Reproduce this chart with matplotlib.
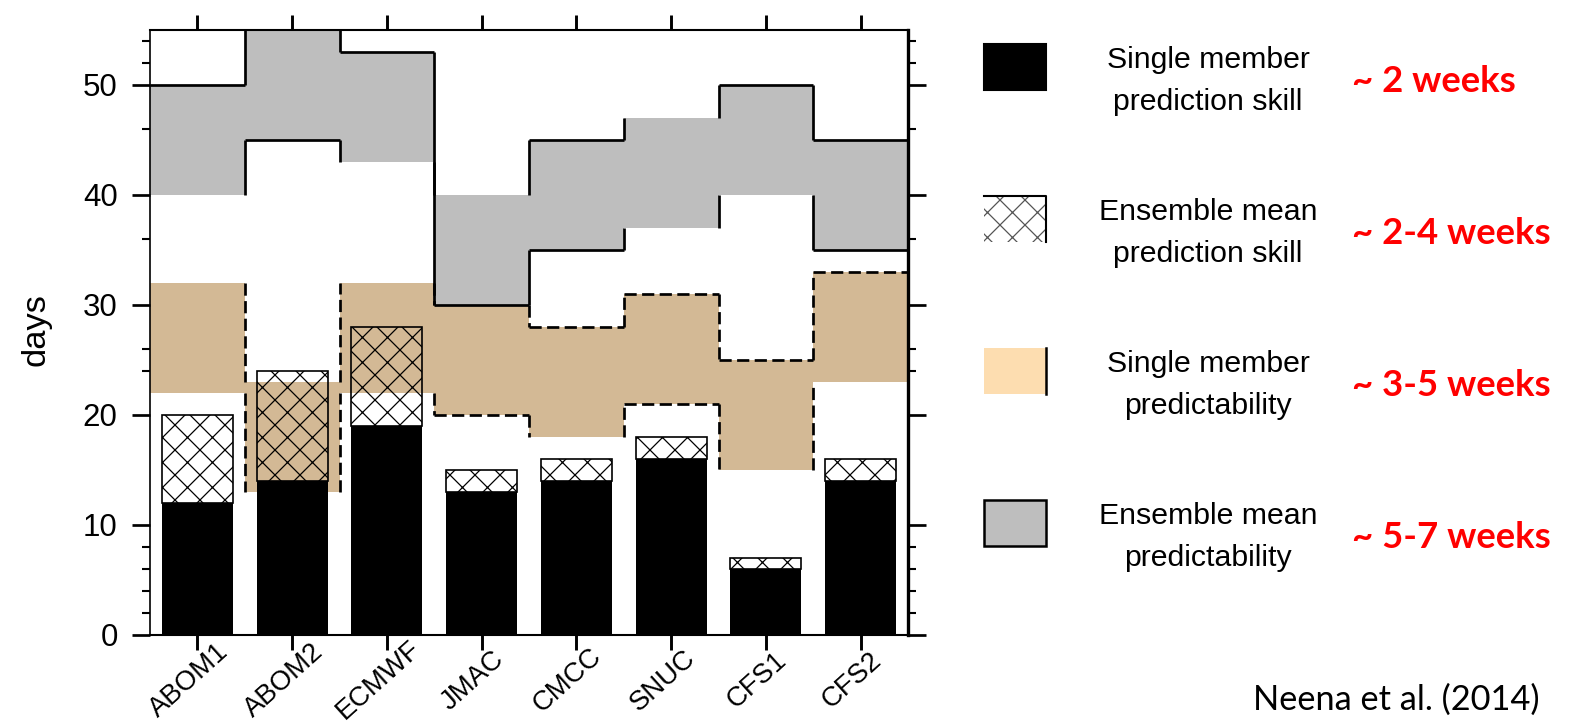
import numpy as np
import matplotlib
matplotlib.use("Agg")
import matplotlib.pyplot as plt
from matplotlib.patches import Rectangle
from matplotlib.ticker import FixedLocator
from matplotlib.transforms import blended_transform_factory

plt.rcParams["font.family"] = ["Liberation Sans", "DejaVu Sans"]
plt.rcParams["hatch.linewidth"] = 0.6

# data (days)
models = ["ABOM1", "ABOM2", "ECMWF", "JMAC", "CMCC", "SNUC", "CFS1", "CFS2"]
single_skill = [12, 14, 19, 13, 14, 16, 6, 14]
ens_skill = [20, 24, 28, 15, 16, 18, 7, 16]
single_pred_lo = [22, 13, 22, 20, 18, 21, 15, 23]
single_pred_hi = [32, 23, 32, 30, 28, 31, 25, 33]
ens_pred_lo = [40, 45, 43, 30, 35, 37, 40, 35]
ens_pred_hi = [50, 55, 53, 40, 45, 47, 50, 45]

# which horizontal edges of the step bands carry an outline in the original
ens_hi_edge = [1, 0, 1, 0, 1, 0, 1, 1]
ens_lo_edge = [0, 1, 0, 1, 1, 0, 0, 1]
single_hi_edge = [0, 0, 0, 0, 1, 1, 1, 1]
single_lo_edge = [0, 0, 0, 1, 0, 1, 0, 0]

y_major = [0, 10, 20, 30, 40, 50]
y_minor = [2, 4, 6, 8, 24, 26, 36, 46, 52, 54]

legend_labels = ["Single member\nprediction skill", "Ensemble mean\nprediction skill",
                 "Single member\npredictability", "Ensemble mean\npredictability"]
legend_notes = ["~ 2 weeks", "~ 2-4 weeks", "~ 3-5 weeks", "~ 5-7 weeks"]

TAN = "#D3B995"
TAN_LEG = "#FDDDB0"
GRAY = "#BEBEBE"
DASH = (0, (4.5, 2))

W, H = 1569, 725
fig = plt.figure(figsize=(W / 150, H / 150), dpi=150)
ax = fig.add_axes([150 / W, 1 - 635 / H, 758 / W, 605 / H])

x = np.arange(len(models))
edges = np.arange(len(models) + 1) - 0.5


def band(lo, hi, color, ls, hi_edge, lo_edge):
    lo = np.array(lo)
    hi = np.array(hi)
    ax.stairs(hi, edges, baseline=lo, fill=True, color=color, lw=0, zorder=1)
    xb = edges[1:-1]
    kw = dict(colors="black", linestyles=ls, lw=1.3, zorder=2)
    ax.vlines(xb, hi[:-1], hi[1:], **kw)
    ax.vlines(xb, lo[:-1], lo[1:], **kw)
    for i in range(len(lo)):
        if hi_edge[i]:
            ax.hlines(hi[i], edges[i], edges[i + 1], **kw)
        if lo_edge[i]:
            ax.hlines(lo[i], edges[i], edges[i + 1], **kw)


band(ens_pred_lo, ens_pred_hi, GRAY, "solid", ens_hi_edge, ens_lo_edge)
band(single_pred_lo, single_pred_hi, TAN, DASH, single_hi_edge, single_lo_edge)

ax.bar(x, single_skill, width=0.75, color="black", zorder=3)
ax.bar(x, np.array(ens_skill) - np.array(single_skill), bottom=single_skill, width=0.75,
       facecolor="none", edgecolor="black", hatch="xx", lw=0.8, zorder=3)

ax.set_xlim(-0.5, len(models) - 0.5)
ax.set_ylim(0, 55)
ax.set_xticks(x)
ax.set_xticklabels([])
ax.yaxis.set_major_locator(FixedLocator(y_major))
ax.yaxis.set_minor_locator(FixedLocator(y_minor))
ax.tick_params(axis="x", which="major", direction="out", length=7, width=1.4,
               top=True, bottom=True)
ax.tick_params(axis="y", which="major", direction="out", length=8.5, width=1.3,
               left=True, right=True, labelsize=15, pad=7)
ax.tick_params(axis="y", which="minor", direction="out", length=4, width=1.0,
               left=True, right=True)
ax.spines["left"].set_linewidth(0.8)
ax.spines["top"].set_linewidth(1.0)
ax.spines["bottom"].set_linewidth(1.0)
ax.spines["right"].set_linewidth(1.6)

ax.set_ylabel("days", fontsize=16.5)
ax.yaxis.set_label_coords(-0.13, 0.505)

trans = blended_transform_factory(ax.transData, ax.transAxes)
for i, m in enumerate(models):
    ax.text(i - 0.09, -0.075, m, transform=trans, rotation=42, rotation_mode="anchor",
            ha="center", va="center", fontsize=13.2)

# legend drawn in figure pixel space
lax = fig.add_axes([0, 0, 1, 1])
lax.set_xlim(0, W)
lax.set_ylim(H, 0)
lax.axis("off")

box_x, box_w, box_h = 984, 62, 46
row_y0, row_step = 67, 152
for i in range(4):
    cy = row_y0 + i * row_step
    top = cy - box_h / 2
    if i == 0:
        lax.add_patch(Rectangle((box_x, top), box_w, box_h, facecolor="black", edgecolor="black", lw=1))
    elif i == 1:
        lax.add_patch(Rectangle((box_x, top), box_w, box_h, facecolor="white", edgecolor="#555555",
                                hatch="xx", lw=0))
        lax.plot([box_x, box_x + box_w, box_x + box_w], [top, top, top + box_h], color="black", lw=1)
    elif i == 2:
        lax.add_patch(Rectangle((box_x, top), box_w, box_h, facecolor=TAN_LEG, lw=0))
        lax.plot([box_x + box_w] * 2, [top, top + box_h], color="black", lw=1.2)
    else:
        lax.add_patch(Rectangle((box_x, top), box_w, box_h, facecolor=GRAY, edgecolor="black", lw=1.2))
    lax.text(1208, cy + 14, legend_labels[i], ha="center", va="center", fontsize=14.5,
             linespacing=1.6, multialignment="center")
    lax.text(1352, cy + 14, legend_notes[i], ha="left", va="center", fontsize=17.5,
             color="#FF0000", fontweight="bold", family=["Lato", "DejaVu Sans"])

lax.text(1396, 716, "Neena et al. (2014)", ha="center", va="bottom", fontsize=16.5,
         family=["Lato", "DejaVu Sans"])

fig.savefig("out.png", dpi=150)
